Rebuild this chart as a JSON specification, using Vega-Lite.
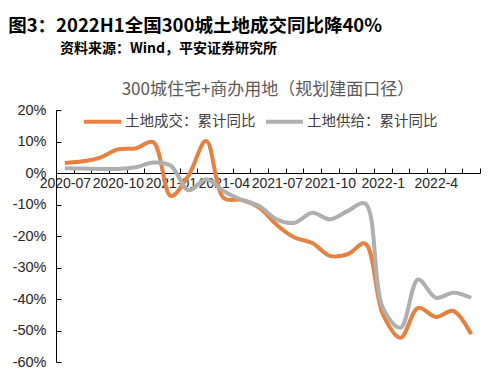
{
  "$schema": "https://vega.github.io/schema/vega-lite/v6.json",
  "background": "white",
  "padding": {"left": 8, "top": 16, "right": 10, "bottom": 5},
  "title": {
    "text": "图3：2022H1全国300城土地成交同比降40%",
    "anchor": "start",
    "frame": "bounds",
    "dx": -4,
    "font": "Noto Sans CJK SC",
    "fontSize": 18.5,
    "fontWeight": "bold",
    "color": "#000000",
    "offset": 7
  },
  "config": {"view": {"stroke": null}},
  "vconcat": [
    {
      "title": {
        "text": "资料来源：Wind，平安证券研究所",
        "anchor": "start",
        "frame": "group",
        "dx": 4,
        "font": "Noto Sans CJK SC",
        "fontSize": 14,
        "fontWeight": "bold",
        "color": "#000000",
        "offset": 25
      },
      "vconcat": [
        {
          "width": 424,
          "height": 252,
          "title": {
            "text": "300城住宅+商办用地（规划建面口径）",
            "anchor": "middle",
            "font": "Noto Sans CJK SC",
            "fontSize": 17,
            "fontWeight": "normal",
            "color": "#595959",
            "offset": 3
          },
          "data": {
            "values": [
              {"month": "2020-07", "series": "土地成交：累计同比", "value": 3.2},
              {"month": "2020-08", "series": "土地成交：累计同比", "value": 3.7},
              {"month": "2020-09", "series": "土地成交：累计同比", "value": 4.9},
              {"month": "2020-10", "series": "土地成交：累计同比", "value": 7.5},
              {"month": "2020-11", "series": "土地成交：累计同比", "value": 7.8},
              {"month": "2020-12", "series": "土地成交：累计同比", "value": 9.8},
              {"month": "2021-01", "series": "土地成交：累计同比", "value": -7.3},
              {"month": "2021-02", "series": "土地成交：累计同比", "value": -0.8},
              {"month": "2021-03", "series": "土地成交：累计同比", "value": 10.2},
              {"month": "2021-04", "series": "土地成交：累计同比", "value": -8.0},
              {"month": "2021-05", "series": "土地成交：累计同比", "value": -8.5},
              {"month": "2021-06", "series": "土地成交：累计同比", "value": -11.0},
              {"month": "2021-07", "series": "土地成交：累计同比", "value": -16.5},
              {"month": "2021-08", "series": "土地成交：累计同比", "value": -20.5},
              {"month": "2021-09", "series": "土地成交：累计同比", "value": -22.2},
              {"month": "2021-10", "series": "土地成交：累计同比", "value": -26.3},
              {"month": "2021-11", "series": "土地成交：累计同比", "value": -25.8},
              {"month": "2021-12", "series": "土地成交：累计同比", "value": -22.4},
              {"month": "2022-1", "series": "土地成交：累计同比", "value": -44.8},
              {"month": "2022-2", "series": "土地成交：累计同比", "value": -52.3},
              {"month": "2022-3", "series": "土地成交：累计同比", "value": -42.8},
              {"month": "2022-4", "series": "土地成交：累计同比", "value": -45.7},
              {"month": "2022-5", "series": "土地成交：累计同比", "value": -43.8},
              {"month": "2022-6", "series": "土地成交：累计同比", "value": -51.2},
              {"month": "2020-07", "series": "土地供给：累计同比", "value": 1.5},
              {"month": "2020-08", "series": "土地供给：累计同比", "value": 1.4},
              {"month": "2020-09", "series": "土地供给：累计同比", "value": 1.3},
              {"month": "2020-10", "series": "土地供给：累计同比", "value": 1.3},
              {"month": "2020-11", "series": "土地供给：累计同比", "value": 1.8},
              {"month": "2020-12", "series": "土地供给：累计同比", "value": 3.3},
              {"month": "2021-01", "series": "土地供给：累计同比", "value": 2.3},
              {"month": "2021-02", "series": "土地供给：累计同比", "value": -5.5},
              {"month": "2021-03", "series": "土地供给：累计同比", "value": -2.0},
              {"month": "2021-04", "series": "土地供给：累计同比", "value": -5.8},
              {"month": "2021-05", "series": "土地供给：累计同比", "value": -8.5},
              {"month": "2021-06", "series": "土地供给：累计同比", "value": -10.5},
              {"month": "2021-07", "series": "土地供给：累计同比", "value": -14.7},
              {"month": "2021-08", "series": "土地供给：累计同比", "value": -15.8},
              {"month": "2021-09", "series": "土地供给：累计同比", "value": -12.6},
              {"month": "2021-10", "series": "土地供给：累计同比", "value": -14.7},
              {"month": "2021-11", "series": "土地供给：累计同比", "value": -12.1},
              {"month": "2021-12", "series": "土地供给：累计同比", "value": -9.7},
              {"month": "2022-1", "series": "土地供给：累计同比", "value": -42.8},
              {"month": "2022-2", "series": "土地供给：累计同比", "value": -49.1},
              {"month": "2022-3", "series": "土地供给：累计同比", "value": -33.8},
              {"month": "2022-4", "series": "土地供给：累计同比", "value": -39.6},
              {"month": "2022-5", "series": "土地供给：累计同比", "value": -38.0},
              {"month": "2022-6", "series": "土地供给：累计同比", "value": -39.6}
            ]
          },
          "mark": {"type": "line", "interpolate": "catmull-rom", "strokeWidth": 4, "strokeCap": "butt"},
          "encoding": {
            "x": {
              "field": "month",
              "type": "ordinal",
              "sort": null,
              "scale": {"type": "band", "paddingInner": 0, "paddingOuter": 0},
              "axis": {
                "title": null,
                "orient": "bottom",
                "offset": -189,
                "tickBand": "extent",
                "tickSize": -5,
                "tickColor": "#000000",
                "domainColor": "#000000",
                "labelExpr": "indexof(['2020-07','2020-10','2021-01','2021-04','2021-07','2021-10','2022-1','2022-4'], datum.value) >= 0 ? datum.label : ''",
                "labelAngle": 0,
                "labelOverlap": false,
                "labelBound": false,
                "labelFlush": false,
                "labelFont": "Liberation Sans",
                "labelFontSize": 14,
                "labelColor": "#262626",
                "labelPadding": 8
              }
            },
            "y": {
              "field": "value",
              "type": "quantitative",
              "scale": {"domain": [-60, 20], "nice": false},
              "axis": {
                "title": null,
                "values": [-60, -50, -40, -30, -20, -10, 0, 10, 20],
                "grid": false,
                "tickSize": -5,
                "tickColor": "#000000",
                "domainColor": "#000000",
                "labelExpr": "datum.value + '%'",
                "labelFont": "Liberation Sans",
                "labelFontSize": 14.5,
                "labelColor": "#262626",
                "labelPadding": 15
              }
            },
            "color": {
              "field": "series",
              "type": "nominal",
              "sort": null,
              "scale": {"domain": ["土地成交：累计同比", "土地供给：累计同比"], "range": ["#E8803F", "#AFAFAF"]},
              "legend": {
                "title": null,
                "orient": "none",
                "legendX": 26,
                "legendY": -9,
                "direction": "horizontal",
                "symbolType": "stroke",
                "symbolSize": 1369,
                "symbolStrokeWidth": 4,
                "labelFont": "Noto Sans CJK SC",
                "labelFontSize": 14.5,
                "labelColor": "#404040",
                "labelOffset": 2,
                "columnPadding": 2
              }
            }
          }
        }
      ]
    }
  ]
}
